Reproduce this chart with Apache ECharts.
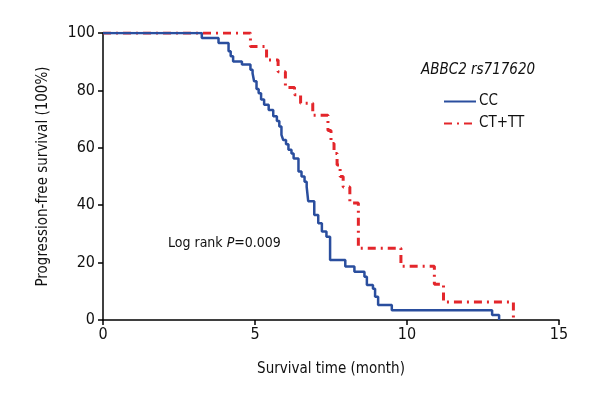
<!DOCTYPE html>
<html><head><meta charset="utf-8">
<script src="https://cdn.jsdelivr.net/npm/echarts@6/dist/echarts.min.js"></script>
<style>html,body{margin:0;padding:0;background:#fff}#c{width:600px;height:400px}</style>
</head><body><div id="c"></div>
<script>
const seriesNames = ['CC', 'CT+TT'];
const ccTime = [0, 3.25, 3.8, 4.13, 4.2, 4.28, 4.57, 4.85, 4.92, 4.97, 5.05, 5.12, 5.2, 5.3, 5.45, 5.6, 5.72, 5.8, 5.87, 5.93, 6.02, 6.1, 6.2, 6.27, 6.43, 6.53, 6.63, 6.7, 6.75, 6.95, 7.08, 7.2, 7.35, 7.47, 7.97, 8.27, 8.6, 8.68, 8.88, 8.95, 9.05, 9.5, 12.8, 13.03];
const ccSurv = [100, 98.3, 96.5, 93.6, 91.9, 90.1, 89, 87.2, 86, 83.2, 80.5, 79, 76.8, 75, 73.2, 71, 69.3, 67.4, 64.5, 62.7, 61.2, 59.3, 58, 56.3, 51.7, 50, 48.2, 46.4, 41.4, 36.6, 33.7, 30.8, 29, 20.9, 18.6, 16.8, 15.1, 12.2, 10.9, 8.1, 5.2, 3.4, 1.7, 0];
const ctTime = [0, 4.85, 5.38, 5.76, 6.0, 6.3, 6.5, 6.9, 7.4, 7.5, 7.6, 7.7, 7.8, 7.9, 8.12, 8.4, 9.8, 10.9, 11.2, 13.5];
const ctSurv = [100, 95.3, 90.6, 86.5, 81, 78.5, 75.5, 71.3, 66, 61.5, 58, 54, 50, 46.3, 40.8, 25, 18.7, 12.5, 6.25, 0];
const xTicks = [0, 5, 10, 15];
const yTicks = [0, 20, 40, 60, 80, 100];

const FONT = "'DejaVu Sans Condensed', 'Liberation Sans Narrow', sans-serif";
const chart = echarts.init(document.getElementById('c'));
const zip = (a, b) => a.map((v, i) => [v, b[i]]);
chart.setOption({
  animation: false,
  backgroundColor: '#fff',
  grid: { left: 103, top: 33, right: 41, bottom: 80 },
  title: [
    { text: 'ABBC2 rs717620', left: 416, top: 58, textStyle: { fontFamily: FONT, fontStyle: 'italic', fontWeight: 'normal', fontSize: 15, color: '#111' } },
    { text: '{a|Log rank }{b|P}{a|=0.009}', left: 163, top: 231,
      textStyle: { rich: { a: { fontFamily: FONT, fontSize: 14, fontWeight: 'normal', color: '#111' }, b: { fontFamily: FONT, fontSize: 14, fontWeight: 'normal', fontStyle: 'italic', color: '#111' } } } }
  ],
  legend: {
    orient: 'vertical', left: 438, top: 89, itemGap: 7, itemWidth: 32, itemHeight: 14,
    itemStyle: { opacity: 0 },
    textStyle: { fontFamily: FONT, fontSize: 15, color: '#111', padding: [0, 0, 0, -2] },
    data: seriesNames
  },
  xAxis: {
    type: 'value', min: xTicks[0], max: xTicks[xTicks.length - 1], interval: 5,
    name: 'Survival time (month)', nameLocation: 'middle', nameGap: 42,
    nameTextStyle: { fontFamily: FONT, fontSize: 15, color: '#111' },
    axisLine: { lineStyle: { color: '#000', width: 1.5 } },
    axisTick: { length: 5, lineStyle: { color: '#000', width: 1.5 } },
    axisLabel: { fontFamily: FONT, fontSize: 16, color: '#111', margin: 7 },
    splitLine: { show: false }
  },
  yAxis: {
    type: 'value', min: yTicks[0], max: yTicks[yTicks.length - 1], interval: 20,
    name: 'Progression-free survival (100%)', nameLocation: 'middle', nameGap: 52,
    nameTextStyle: { fontFamily: FONT, fontSize: 15, color: '#111' },
    axisLine: { show: true, lineStyle: { color: '#000', width: 1.5 } },
    axisTick: { show: true, length: 5, lineStyle: { color: '#000', width: 1.5 } },
    axisLabel: { fontFamily: FONT, fontSize: 16, color: '#111', margin: 8 },
    splitLine: { show: false }
  },
  series: [
    { name: seriesNames[0], type: 'line', step: 'end', symbol: 'none', z: 3,
      data: zip(ccTime, ccSurv),
      itemStyle: { color: '#2a4e9e' },
      lineStyle: { color: '#2a4e9e', width: 2.5 } },
    { name: seriesNames[1], type: 'line', step: 'end', symbol: 'none', z: 2,
      data: zip(ctTime, ctSurv),
      itemStyle: { color: '#e3262b' },
      lineStyle: { color: '#e3262b', width: 3, type: [8, 5, 2, 5] } }
  ]
});
</script></body></html>
